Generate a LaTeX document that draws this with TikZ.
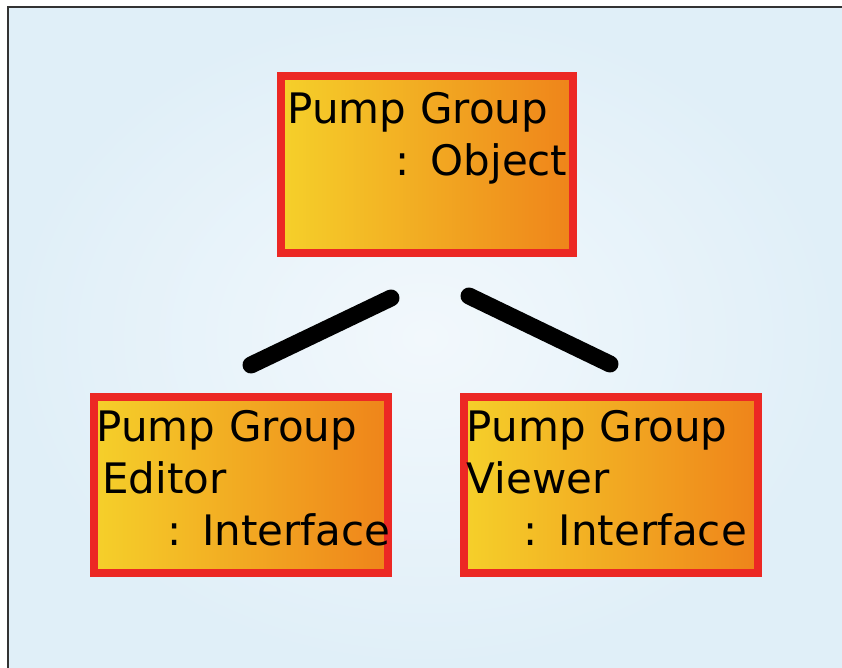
\documentclass[tikz,border=0pt]{standalone}
\usepackage{fontspec}
\setmainfont{DejaVu Sans}
\usetikzlibrary{positioning,calc}

\definecolor{frameRed}{RGB}{236,40,36}
\definecolor{boxYellow}{RGB}{245,208,42}
\definecolor{boxOrange}{RGB}{239,132,26}
\definecolor{skyBlue}{RGB}{224,239,248}
\definecolor{paleBlue}{RGB}{242,248,252}

\tikzset{
  classbox/.style={draw=frameRed, line width=4pt, left color=boxYellow, right color=boxOrange, inner sep=0pt},
  classtext/.style={anchor=north west, align=left, inner sep=0pt, font=\fontsize{21}{26}\selectfont},
  link/.style={line width=8.5pt, line cap=round},
}

\begin{document}
\begin{tikzpicture}[x=0.5pt, y=-0.5pt]

    % Background
    \useasboundingbox (0,0) rectangle (842,668);
    \fill[inner color=paleBlue, outer color=skyBlue] (8,7) rectangle (842,668);
    \draw[line width=1pt, black!80] (8,668) -- (8,7) -- (842,7);

    % Boxes
    \node (top) [classbox, minimum width=146pt, minimum height=88.5pt] at (427,164.5) {};
    \node (editor) [classbox, minimum width=147pt, minimum height=88pt] at (241,485) {};
    \node (viewer) [classbox, minimum width=147pt, minimum height=88pt] at (610.5,485) {};

    % Labels
    \node (topText) [classtext, text width=140pt] at ($(top.north west)+(10,20)$) {Pump Group\\ \hfill: Object};
    \node (editorText) [classtext, text width=147pt] at ($(editor.north west)+(6,17)$) {Pump Group\\ \hspace*{3pt}Editor\\ \hfill: Interface};
    \node (viewerText) [classtext, text width=140pt] at ($(viewer.north west)+(7,17)$) {Pump Group\\ Viewer\\ \hfill: Interface};

    % Connectors
    \coordinate (editorEnd) at (251,365);
    \coordinate (topLeft) at (391,298);
    \coordinate (topRight) at (469,296);
    \coordinate (viewerEnd) at (610,364);
    \draw[link] (editorEnd) -- (topLeft);
    \draw[link] (topRight) -- (viewerEnd);

\end{tikzpicture}
\end{document}
